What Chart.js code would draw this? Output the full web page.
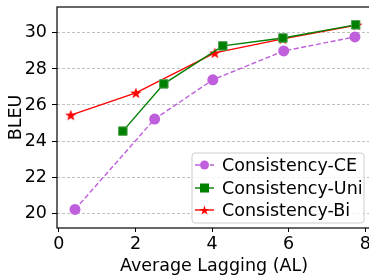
<!DOCTYPE html>
<html>
<head>
<meta charset="utf-8">
<script src="https://cdn.jsdelivr.net/npm/chart.js@4.4.0/dist/chart.umd.min.js"></script>
<style>
  html, body { margin: 0; padding: 0; background: #fff; overflow: hidden; }
  #wrap { position: relative; width: 400px; height: 278px; }
</style>
</head>
<body>
<div id="wrap"><canvas id="chart"></canvas></div>
<script>
"use strict";

// data
const ceX  = [0.42, 2.50, 4.02, 5.87, 7.73];
const ceY  = [20.2, 25.22, 27.4, 29.0, 29.78];
const uniX = [1.67, 2.74, 4.28, 5.85, 7.75];
const uniY = [24.55, 27.17, 29.28, 29.72, 30.45];
const biX  = [0.31, 2.01, 4.07, 5.85, 7.78];
const biY  = [25.44, 26.67, 28.89, 29.67, 30.44];
const xTicks = [0, 2, 4, 6, 8];
const yTicks = [20, 22, 24, 26, 28, 30];
const seriesNames = ["Consistency-CE", "Consistency-Uni", "Consistency-Bi"];

const purple = "#bf5fdc";
const green = "#008000";
const red = "#ff0000";
const font = "'DejaVu Sans', sans-serif";
const fsize = 17.5;

function toPoints(xs, ys) {
  return xs.map(function (x, i) { return { x: x, y: ys[i] }; });
}

// filled 5 point star like matplotlib "*"
function starPath(ctx, cx, cy, r) {
  ctx.beginPath();
  for (let i = 0; i < 10; i++) {
    const rad = i % 2 === 0 ? r : r * 0.4;
    const a = -Math.PI / 2 + i * Math.PI / 5;
    const px = cx + rad * Math.cos(a), py = cy + rad * Math.sin(a);
    if (i === 0) ctx.moveTo(px, py); else ctx.lineTo(px, py);
  }
  ctx.closePath();
}
function makeStar(r) {
  const c = document.createElement("canvas");
  c.width = c.height = Math.ceil(r * 2 + 2);
  const g = c.getContext("2d");
  starPath(g, c.width / 2, c.height / 2 + 0.5, r);
  g.fillStyle = red;
  g.fill();
  return c;
}
const starImg = makeStar(6);

const frameAndLegend = {
  id: "frameAndLegend",
  afterDraw: function (chart) {
    const ctx = chart.ctx;
    const a = chart.chartArea;
    ctx.save();
    ctx.strokeStyle = "#000";
    ctx.lineWidth = 1.2;
    ctx.strokeRect(a.left, a.top, a.right - a.left, a.bottom - a.top);

    // legend box
    const bx = 192, by = 153, bw = 172, bh = 70;
    ctx.fillStyle = "rgba(255,255,255,0.8)";
    ctx.strokeStyle = "#cccccc";
    ctx.lineWidth = 1;
    ctx.beginPath();
    ctx.roundRect(bx, by, bw, bh, 3);
    ctx.fill();
    ctx.stroke();

    const rows = [165, 188, 210];
    const colors = [purple, green, red];
    rows.forEach(function (ry, i) {
      ctx.strokeStyle = colors[i];
      ctx.lineWidth = 1.4;
      ctx.setLineDash(i === 0 ? [5, 2.5] : []);
      ctx.beginPath();
      ctx.moveTo(195, ry);
      ctx.lineTo(214, ry);
      ctx.stroke();
      ctx.setLineDash([]);
      ctx.fillStyle = colors[i];
      if (i === 0) {
        ctx.beginPath();
        ctx.arc(204.5, ry, 4.5, 0, Math.PI * 2);
        ctx.fill();
      } else if (i === 1) {
        ctx.fillRect(200, ry - 4.5, 9, 9);
      } else {
        starPath(ctx, 204.5, ry + 0.5, 5);
        ctx.fill();
      }
      ctx.fillStyle = "#000";
      ctx.font = fsize + "px " + font;
      ctx.textBaseline = "middle";
      ctx.textAlign = "left";
      ctx.fillText(seriesNames[i], 222, ry + 1);
    });
    ctx.restore();
  }
};

new Chart(document.getElementById("chart"), {
  type: "scatter",
  data: {
    datasets: [
      {
        label: seriesNames[0],
        data: toPoints(ceX, ceY),
        showLine: true,
        borderColor: purple,
        backgroundColor: purple,
        borderWidth: 1.4,
        borderDash: [5, 2.5],
        pointStyle: "circle",
        pointRadius: 5.5,
        pointBorderWidth: 0
      },
      {
        label: seriesNames[1],
        data: toPoints(uniX, uniY),
        showLine: true,
        borderColor: green,
        backgroundColor: green,
        borderWidth: 1.4,
        pointStyle: "rect",
        pointRadius: 6,
        pointBorderColor: "#4fa04f",
        pointBorderWidth: 1
      },
      {
        label: seriesNames[2],
        data: toPoints(biX, biY),
        showLine: true,
        borderColor: red,
        backgroundColor: red,
        borderWidth: 1.4,
        pointStyle: starImg
      }
    ]
  },
  options: {
    responsive: true,
    maintainAspectRatio: false,
    animation: false,
    layout: { padding: { top: 7, right: 29, left: 0, bottom: 0 } },
    plugins: {
      legend: { display: false },
      tooltip: { enabled: false }
    },
    scales: {
      x: {
        type: "linear",
        min: -0.05,
        max: 8.15,
        afterBuildTicks: function (s) { s.ticks = xTicks.map(function (v) { return { value: v }; }); },
        afterFit: function (s) { s.height = 50; s.paddingLeft = 0; s.paddingRight = 0; },
        border: { display: false },
        grid: { drawOnChartArea: false, color: "#000", tickLength: 4, tickWidth: 1 },
        ticks: { color: "#000", font: { family: font, size: fsize }, padding: 2, maxRotation: 0 },
        title: { display: true, text: "Average Lagging (AL)", color: "#000", font: { family: font, size: fsize }, padding: { top: 0, bottom: 1 } }
      },
      y: {
        min: 19.17,
        max: 31.44,
        afterBuildTicks: function (s) { s.ticks = yTicks.map(function (v) { return { value: v }; }); },
        afterFit: function (s) { s.width = 57; s.paddingTop = 0; s.paddingBottom = 0; },
        border: { display: false, dash: [3, 2] },
        grid: {
          color: "#b0b0b0",
          lineWidth: 0.8,
          tickColor: "#000",
          tickLength: 5,
          tickBorderDash: [],
          tickWidth: 1
        },
        ticks: { color: "#000", font: { family: font, size: fsize }, padding: 5 },
        title: { display: true, text: "BLEU", color: "#000", font: { family: font, size: fsize }, padding: { top: 6, bottom: 4 } }
      }
    }
  },
  plugins: [frameAndLegend]
});
</script>
</body>
</html>
